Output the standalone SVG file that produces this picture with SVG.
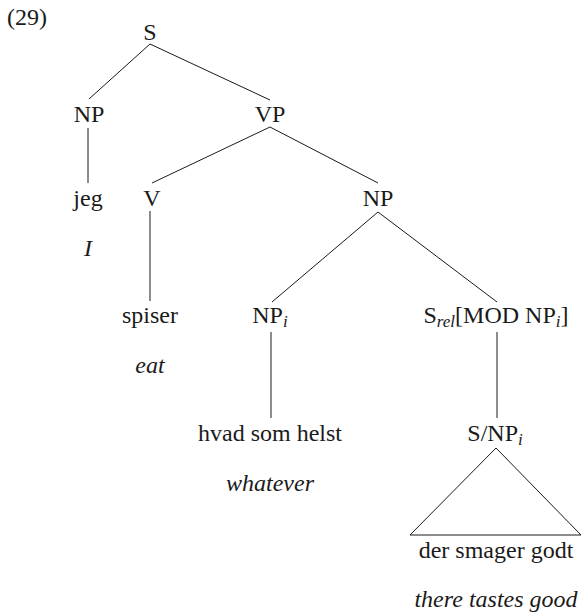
<svg xmlns="http://www.w3.org/2000/svg" width="583" height="612" viewBox="0 0 583 612">
  <style>
    .t { font-size: 24px; fill: #1a1a1a; text-anchor: middle; }
    .gloss { font-style: italic; }
    .sub { font-style: italic; font-size: 17px; }
    .edge { stroke: #1a1a1a; stroke-width: 1; fill: none; }
  </style>
  <rect width="583" height="612" fill="#ffffff"/>

  <g font-family="Liberation Serif, Times New Roman, DejaVu Serif, serif">
  <text class="t" x="7" y="25" text-anchor="start" style="text-anchor:start">(29)</text>

  <g id="edges">
    <line class="edge" x1="150" y1="44" x2="89" y2="99"/>
    <line class="edge" x1="150" y1="44" x2="270" y2="100"/>
    <line class="edge" x1="88" y1="128" x2="88" y2="183"/>
    <line class="edge" x1="270" y1="127" x2="152" y2="183"/>
    <line class="edge" x1="270" y1="127" x2="378" y2="183"/>
    <line class="edge" x1="150" y1="211" x2="150" y2="301"/>
    <line class="edge" x1="378" y1="212" x2="272" y2="302"/>
    <line class="edge" x1="378" y1="212" x2="497" y2="302"/>
    <line class="edge" x1="271" y1="332" x2="271" y2="418"/>
    <line class="edge" x1="497" y1="332" x2="497" y2="418"/>
    <polygon class="edge" points="496,448 410,535 581,535"/>
  </g>

  <g id="node-s"><text class="t" x="150" y="40">S</text></g>
  <g id="node-np-subj"><text class="t" x="89" y="122">NP</text></g>
  <g id="node-vp"><text class="t" x="270" y="122">VP</text></g>
  <g id="node-jeg"><text class="t" x="88" y="206">jeg</text><text class="t gloss" x="88" y="256">I</text></g>
  <g id="node-v"><text class="t" x="152" y="206">V</text></g>
  <g id="node-np-obj"><text class="t" x="378" y="206">NP</text></g>
  <g id="node-spiser"><text class="t" x="150" y="323">spiser</text><text class="t gloss" x="150" y="373">eat</text></g>
  <g id="node-np-i"><text class="t" x="270" y="323">NP<tspan class="sub" dy="4">i</tspan></text></g>
  <g id="node-srel"><text class="t" x="496" y="323">S<tspan class="sub" dy="4">rel</tspan><tspan dy="-4">[MOD NP</tspan><tspan class="sub" dy="4">i</tspan><tspan dy="-4">]</tspan></text></g>
  <g id="node-hvad"><text class="t" x="270" y="441">hvad som helst</text><text class="t gloss" x="270" y="491">whatever</text></g>
  <g id="node-s-np"><text class="t" x="495" y="441">S/NP<tspan class="sub" dy="4">i</tspan></text></g>
  <g id="node-der"><text class="t" x="496" y="558">der smager godt</text><text class="t gloss" x="496" y="607">there tastes good</text></g>
  </g>
</svg>
